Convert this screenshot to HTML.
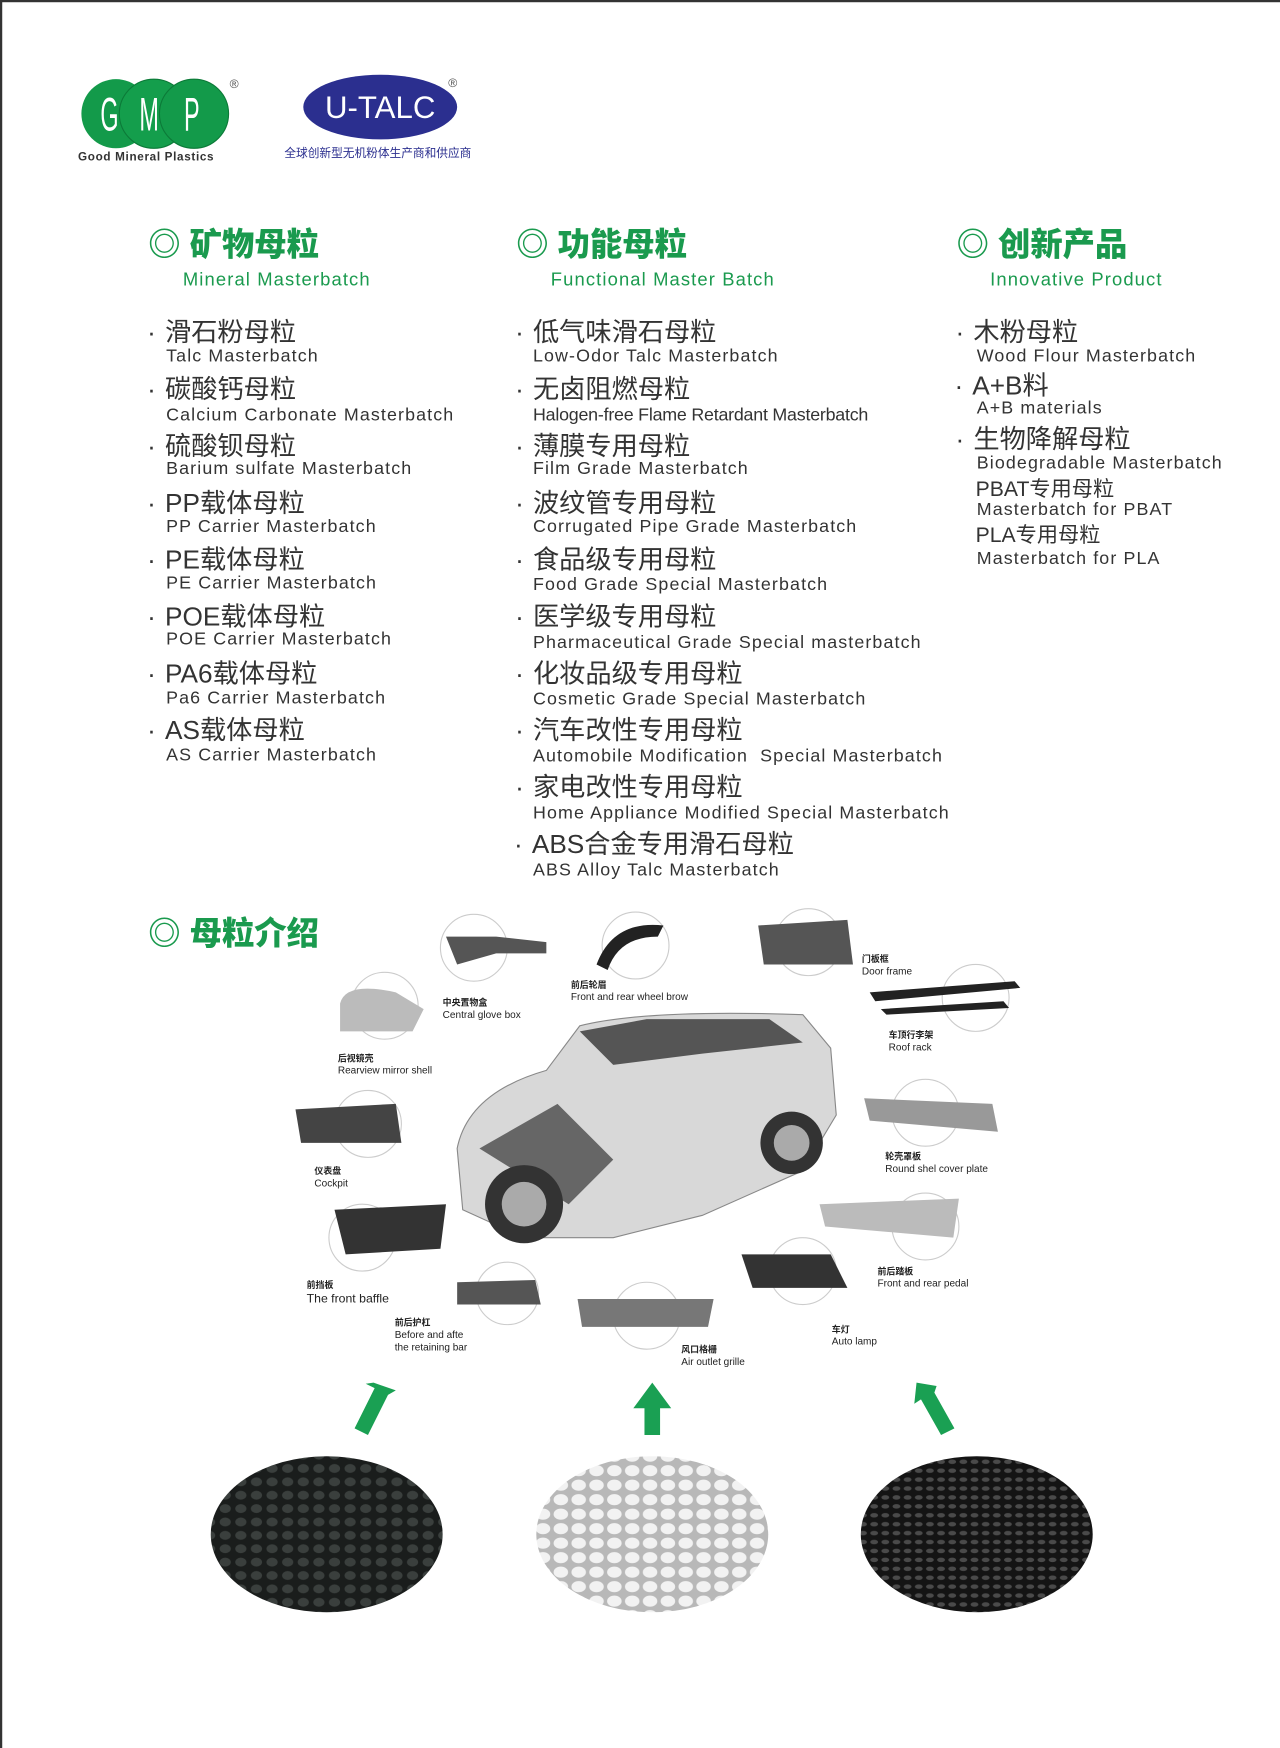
<!DOCTYPE html>
<html><head><meta charset="utf-8"><style>
html,body{margin:0;padding:0;background:#fff;}
body{width:1280px;height:1748px;overflow:hidden;position:relative;}
#w{position:absolute;left:0;top:0;width:1148px;height:1568px;transform:scale(1.115);transform-origin:0 0;font-family:"Liberation Sans","Noto Sans CJK SC",sans-serif;color:#333;}
.a{position:absolute;white-space:nowrap;}
.h{font-size:29px;font-weight:900;color:#1a9a4e;line-height:30px;}
.sub{font-size:16.5px;color:#1a9a4e;line-height:18px;letter-spacing:1px;}
.cn{font-size:23.5px;line-height:24px;color:#333;}
.cn i{font-style:normal;position:absolute;left:-16px;top:0;}
.en{font-size:16px;line-height:18px;color:#333;letter-spacing:1px;}
.b{font-size:19px;line-height:20px;color:#333;}
.l{font-size:9px;line-height:11px;color:#222;}
.l b{font-size:8px;}
</style></head><body><div id="w">
<div style="position:absolute;left:0;top:0;width:1146px;height:1566px;border-left:2px solid #333;border-top:2px solid #333;"></div>

<svg class="a" style="left:70px;top:65px" width="160" height="85">
<circle cx="34" cy="37" r="31" fill="#139a4a"/><circle cx="68" cy="37" r="31" fill="#149e4c" stroke="#0c7a38" stroke-width="1"/><circle cx="104" cy="37" r="31" fill="#139a4a" stroke="#0c7a38" stroke-width="1"/>
<text x="0" y="0" font-family="Liberation Sans" font-size="30" fill="#fff" transform="translate(20,52) scale(0.7,1.4)">G</text>
<text x="0" y="0" font-family="Liberation Sans" font-size="30" fill="#fff" transform="translate(55,52) scale(0.7,1.4)">M</text>
<text x="0" y="0" font-family="Liberation Sans" font-size="30" fill="#fff" transform="translate(95,52) scale(0.7,1.4)">P</text>
<text x="0" y="79" font-family="Liberation Sans" font-size="10.5" font-weight="bold" fill="#333" letter-spacing="0.6">Good Mineral Plastics</text>
<text x="136" y="14" font-size="11" fill="#555">®</text>
</svg>
<svg class="a" style="left:255px;top:62px" width="180" height="85">
<ellipse cx="86" cy="34" rx="69" ry="29" fill="#2b2f8f"/>
<text x="86" y="44" text-anchor="middle" font-family="Liberation Sans" font-size="28" fill="#fff">U-TALC</text>
<text x="147" y="16" font-size="11" fill="#555">®</text>
<text x="0" y="79" font-family="Noto Sans CJK SC" font-size="10.5" fill="#2b2f8f">全球创新型无机粉体生产商和供应商</text>
</svg>

<div class="a h" style="left:133px;top:205px">◎ 矿物母粒</div>
<div class="a sub" style="left:164px;top:242px">Mineral Masterbatch</div>
<div class="a h" style="left:463px;top:205px">◎ 功能母粒</div>
<div class="a sub" style="left:494px;top:242px">Functional Master Batch</div>
<div class="a h" style="left:858px;top:205px">◎ 创新产品</div>
<div class="a sub" style="left:888px;top:242px">Innovative Product</div>

<div class="a cn" style="left:148px;top:286px"><i>·</i>滑石粉母粒</div><div class="a en" style="left:149px;top:311px">Talc Masterbatch</div>
<div class="a cn" style="left:148px;top:337px"><i>·</i>碳酸钙母粒</div><div class="a en" style="left:149px;top:364px">Calcium Carbonate Masterbatch</div>
<div class="a cn" style="left:148px;top:388px"><i>·</i>硫酸钡母粒</div><div class="a en" style="left:149px;top:412px">Barium sulfate Masterbatch</div>
<div class="a cn" style="left:148px;top:439px"><i>·</i>PP载体母粒</div><div class="a en" style="left:149px;top:464px">PP Carrier Masterbatch</div>
<div class="a cn" style="left:148px;top:490px"><i>·</i>PE载体母粒</div><div class="a en" style="left:149px;top:515px">PE Carrier Masterbatch</div>
<div class="a cn" style="left:148px;top:541px"><i>·</i>POE载体母粒</div><div class="a en" style="left:149px;top:565px">POE Carrier Masterbatch</div>
<div class="a cn" style="left:148px;top:592px"><i>·</i>PA6载体母粒</div><div class="a en" style="left:149px;top:618px">Pa6 Carrier Masterbatch</div>
<div class="a cn" style="left:148px;top:643px"><i>·</i>AS载体母粒</div><div class="a en" style="left:149px;top:669px">AS Carrier Masterbatch</div>

<div class="a cn" style="left:478px;top:286px"><i>·</i>低气味滑石母粒</div><div class="a en" style="left:478px;top:311px">Low-Odor Talc Masterbatch</div>
<div class="a cn" style="left:478px;top:337px"><i>·</i>无卤阻燃母粒</div><div class="a en" style="left:478px;top:364px;letter-spacing:-.2px">Halogen-free Flame Retardant Masterbatch</div>
<div class="a cn" style="left:478px;top:388px"><i>·</i>薄膜专用母粒</div><div class="a en" style="left:478px;top:412px">Film Grade Masterbatch</div>
<div class="a cn" style="left:478px;top:439px"><i>·</i>波纹管专用母粒</div><div class="a en" style="left:478px;top:464px">Corrugated Pipe Grade Masterbatch</div>
<div class="a cn" style="left:478px;top:490px"><i>·</i>食品级专用母粒</div><div class="a en" style="left:478px;top:516px">Food Grade Special Masterbatch</div>
<div class="a cn" style="left:478px;top:541px"><i>·</i>医学级专用母粒</div><div class="a en" style="left:478px;top:568px">Pharmaceutical Grade Special masterbatch</div>
<div class="a cn" style="left:478px;top:592px"><i>·</i>化妆品级专用母粒</div><div class="a en" style="left:478px;top:619px">Cosmetic Grade Special Masterbatch</div>
<div class="a cn" style="left:478px;top:643px"><i>·</i>汽车改性专用母粒</div><div class="a en" style="left:478px;top:670px">Automobile Modification&nbsp; Special Masterbatch</div>
<div class="a cn" style="left:478px;top:694px"><i>·</i>家电改性专用母粒</div><div class="a en" style="left:478px;top:721px">Home Appliance Modified Special Masterbatch</div>
<div class="a cn" style="left:477px;top:745px"><i>·</i>ABS合金专用滑石母粒</div><div class="a en" style="left:478px;top:772px">ABS Alloy Talc Masterbatch</div>

<div class="a cn" style="left:873px;top:286px"><i>·</i>木粉母粒</div><div class="a en" style="left:876px;top:311px">Wood Flour Masterbatch</div>
<div class="a cn" style="left:872px;top:334px"><i>·</i>A+B料</div><div class="a en" style="left:876px;top:358px">A+B materials</div>
<div class="a cn" style="left:873px;top:382px"><i>·</i>生物降解母粒</div><div class="a en" style="left:876px;top:407px">Biodegradable Masterbatch</div>
<div class="a b" style="left:875px;top:430px">PBAT专用母粒</div><div class="a en" style="left:876px;top:449px">Masterbatch for PBAT</div>
<div class="a b" style="left:875px;top:471px">PLA专用母粒</div><div class="a en" style="left:876px;top:493px">Masterbatch for PLA</div>

<div class="a h" style="left:133px;top:823px">◎ 母粒介绍</div>

<svg class="a" style="left:250px;top:810px" width="680" height="430">
<g fill="none" stroke="#ccc" stroke-width="1">
<circle cx="175" cy="40" r="30"/><circle cx="320" cy="38" r="30"/><circle cx="475" cy="35" r="30"/>
<circle cx="95" cy="92" r="30"/><circle cx="625" cy="85" r="30"/><circle cx="80" cy="198" r="30"/>
<circle cx="580" cy="188" r="30"/><circle cx="75" cy="300" r="30"/><circle cx="580" cy="290" r="30"/>
<circle cx="205" cy="350" r="28"/><circle cx="330" cy="370" r="30"/><circle cx="470" cy="330" r="30"/>
</g>
<path d="M150 30 L195 30 L240 35 L240 45 L195 45 L160 55 Z" fill="#555"/>
<path d="M285 55 Q300 15 345 20 L340 30 Q305 30 295 60 Z" fill="#222"/>
<path d="M430 20 L510 15 L515 55 L435 55 Z" fill="#555"/>
<path d="M55 90 Q60 70 105 80 L130 95 L120 115 L55 115 Z" fill="#bbb"/>
<path d="M530 80 L660 70 L665 76 L535 88 Z M540 95 L650 88 L655 94 L545 100 Z" fill="#222"/>
<path d="M15 185 L105 180 L110 215 L20 215 Z" fill="#444"/>
<path d="M525 175 L640 180 L645 205 L530 195 Z" fill="#999"/>
<path d="M50 275 L150 270 L145 310 L60 315 Z" fill="#333"/>
<path d="M485 270 L610 265 L605 300 L490 290 Z" fill="#bbb"/>
<path d="M160 340 L230 338 L235 360 L160 360 Z" fill="#555"/>
<path d="M268 355 L390 355 L385 380 L272 380 Z" fill="#777"/>
<path d="M415 315 L495 315 L510 345 L425 345 Z" fill="#333"/>
<path d="M160 220 Q170 170 240 150 L270 110 Q330 95 470 100 L495 130 L500 190 L470 240 L380 280 L300 300 L220 300 L165 275 Z" fill="#d8d8d8" stroke="#888"/>
<path d="M270 115 L330 104 L440 104 L470 125 L380 135 L300 145 Z" fill="#555"/>
<path d="M180 220 L250 180 L300 230 L260 270 Z" fill="#666"/>
<circle cx="220" cy="270" r="35" fill="#333"/><circle cx="220" cy="270" r="20" fill="#aaa"/>
<circle cx="460" cy="215" r="28" fill="#333"/><circle cx="460" cy="215" r="16" fill="#aaa"/>
</svg>
<div class="a l" style="left:397px;top:894px"><b>中央置物盒</b><br>Central glove box</div>
<div class="a l" style="left:512px;top:878px"><b>前后轮眉</b><br>Front and rear wheel brow</div>
<div class="a l" style="left:773px;top:855px"><b>门板框</b><br>Door frame</div>
<div class="a l" style="left:303px;top:944px"><b>后视镜壳</b><br>Rearview mirror shell</div>
<div class="a l" style="left:797px;top:923px"><b>车顶行李架</b><br>Roof rack</div>
<div class="a l" style="left:282px;top:1045px"><b>仪表盘</b><br>Cockpit</div>
<div class="a l" style="left:794px;top:1032px"><b>轮壳罩板</b><br>Round shel cover plate</div>
<div class="a l" style="left:787px;top:1135px"><b>前后踏板</b><br>Front and rear pedal</div>
<div class="a l" style="left:275px;top:1146px;font-size:11px;line-height:12px"><b>前挡板</b><br>The front baffle</div>
<div class="a l" style="left:354px;top:1181px"><b>前后护杠</b><br>Before and afte<br>the retaining bar</div>
<div class="a l" style="left:746px;top:1187px"><b>车灯</b><br>Auto lamp</div>
<div class="a l" style="left:611px;top:1205px"><b>风口格栅</b><br>Air outlet grille</div>

<svg class="a" style="left:0;top:1235px" width="1148" height="60">
<polygon points="335,5 355,12 348,16 330,52 318,46 336,10 328,6" fill="#1aa053"/>
<polygon points="585,5 602,28 592,28 592,52 578,52 578,28 568,28" fill="#1aa053"/>
<polygon points="822,5 840,8 838,14 856,46 844,52 826,20 820,24" fill="#1aa053"/>
</svg>

<svg class="a" style="left:0;top:1300px" width="1148" height="160">
<defs>
<pattern id="pd" width="14" height="12" patternUnits="userSpaceOnUse"><rect width="14" height="12" fill="#1a1d1c"/><ellipse cx="6" cy="5" rx="5" ry="4" fill="#3a3f3d"/></pattern>
<pattern id="pw" width="16" height="13" patternUnits="userSpaceOnUse"><rect width="16" height="13" fill="#b8b8b8"/><ellipse cx="7" cy="6" rx="6.5" ry="5" fill="#f2f2f2"/></pattern>
<pattern id="pk" width="10" height="8" patternUnits="userSpaceOnUse"><rect width="10" height="8" fill="#141414"/><ellipse cx="4" cy="3" rx="3.5" ry="2" fill="#4a4a4a"/></pattern>
</defs>
<ellipse cx="293" cy="76" rx="104" ry="70" fill="url(#pd)"/>
<ellipse cx="585" cy="76" rx="104" ry="70" fill="url(#pw)"/>
<ellipse cx="876" cy="76" rx="104" ry="70" fill="url(#pk)"/>
</svg>
</div></body></html>
